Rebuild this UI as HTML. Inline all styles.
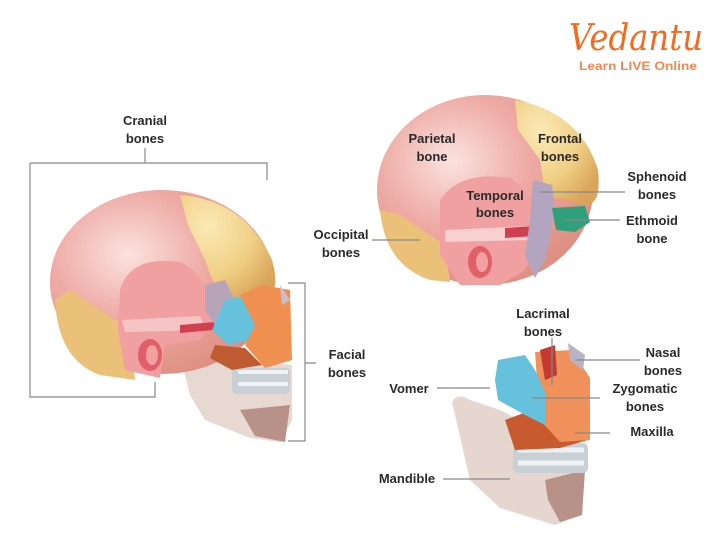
<!DOCTYPE html>
<html><head><meta charset="utf-8"><style>
html,body{margin:0;padding:0;background:#fff;}
svg{display:block;}
text{font-family:"Liberation Sans",sans-serif;font-size:13px;font-weight:bold;fill:#2a2a2a;text-anchor:middle;}
.l{stroke:#888;stroke-width:1.2;fill:none;}
</style></head><body>
<svg width="720" height="544" viewBox="0 0 720 544">
<defs>
<radialGradient id="cr" cx="0.35" cy="0.35" r="0.7">
<stop offset="0" stop-color="#fbe2df"/><stop offset="0.5" stop-color="#eeaaa4"/><stop offset="1" stop-color="#de8f82"/>
</radialGradient>
<radialGradient id="fr" cx="0.3" cy="0.3" r="0.8">
<stop offset="0" stop-color="#fbe9b6"/><stop offset="0.6" stop-color="#f0cf84"/><stop offset="1" stop-color="#d9a55a"/>
</radialGradient>
</defs>

<!-- Logo -->
<text x="636" y="50" textLength="134" lengthAdjust="spacingAndGlyphs" style="font-size:36px;font-weight:normal;fill:#f26b21;font-family:'DejaVu Serif','Liberation Serif',serif;font-style:italic;">Vedantu</text>
<text x="638" y="70" textLength="118" lengthAdjust="spacingAndGlyphs" style="font-size:12px;fill:#ef8a55;">Learn LIVE Online</text>

<!-- Left skull -->
<path class="l" d="M145 148V163M30 163H267V180M30 163V397H155V382"/>
<path class="l" d="M288 283H305V441H288M305 363H316"/>
<text x="145" y="125">Cranial</text><text x="145" y="143">bones</text>
<text x="347" y="359">Facial</text><text x="347" y="377">bones</text>

<path d="M175 335 L200 330 L240 360 L292 365 L292 420 L280 442 L250 438 L205 420 L190 395 Z" fill="#e7d8d2"/>
<path d="M240 410 L290 405 L285 442 L255 436 Z" fill="#b89289"/>
<rect x="232" y="368" width="58" height="26" rx="4" fill="#c8d0d6"/>
<path d="M238 372h50M238 384h50" stroke="#eef2f4" stroke-width="4"/>
<ellipse cx="162" cy="282" rx="112" ry="92" fill="url(#cr)"/>
<path d="M180 195 Q245 200 272 260 Q282 295 262 300 L220 300 L205 260 L188 225 Z" fill="url(#fr)"/>
<path d="M55 300 Q58 360 100 375 L135 380 L130 330 L70 290 Z" fill="#ebc078"/>
<path d="M120 290 Q130 255 180 262 Q210 275 212 320 L200 340 L165 345 L160 378 L125 370 L118 330 Z" fill="#f0a0a0"/>
<path d="M122 320 L200 316 L205 330 L125 332 Z" fill="#f5c4c4"/>
<path d="M180 325 L215 322 L214 330 L180 333Z" fill="#d04050"/>
<ellipse cx="150" cy="355" rx="12" ry="16" fill="#e0606a"/>
<ellipse cx="152" cy="355" rx="6" ry="10" fill="#f2a0a0"/>
<path d="M205 285 L225 280 L240 310 L215 325 L205 310Z" fill="#b8a4b8"/>
<path d="M225 300 L250 295 L258 325 L250 340 L228 345 L212 330 Z" fill="#66c2dc"/>
<path d="M240 295 L262 285 L290 290 L292 360 L265 368 L245 345 L255 325Z" fill="#f09050"/>
<path d="M280 285 L290 300 L282 305Z" fill="#c8c0d0"/>
<path d="M215 345 L245 348 L262 365 L232 370 L210 358Z" fill="#c05a30"/>

<!-- Top-right skull -->
<ellipse cx="485" cy="190" rx="108" ry="95" fill="url(#cr)"/>
<path d="M515 100 Q580 112 598 170 Q602 205 585 205 L545 195 L540 160 L518 130 Z" fill="url(#fr)"/>
<path d="M380 210 Q385 265 430 280 L450 282 L445 245 L400 215Z" fill="#ebc078"/>
<path d="M440 200 Q460 170 510 178 Q540 195 540 240 L525 270 L500 285 L460 285 L440 255 Z" fill="#f0a0a0"/>
<path d="M445 230 L530 226 L532 240 L445 242Z" fill="#f8d0d0"/>
<path d="M505 228 L535 226 L535 236 L505 238Z" fill="#d04050"/>
<ellipse cx="480" cy="262" rx="12" ry="16" fill="#e0606a"/>
<ellipse cx="482" cy="262" rx="6" ry="10" fill="#f2a0a0"/>
<path d="M533 180 L552 185 L555 212 L545 260 L535 278 L525 255 L530 220Z" fill="#b3a4c0"/>
<path d="M552 208 L585 206 L590 222 L575 232 L556 230Z" fill="#2fa07a"/>
<text x="432" y="143">Parietal</text><text x="432" y="161">bone</text>
<text x="560" y="143">Frontal</text><text x="560" y="161">bones</text>
<text x="495" y="200">Temporal</text><text x="495" y="217">bones</text>
<text x="657" y="181">Sphenoid</text><text x="657" y="199">bones</text>
<text x="652" y="225">Ethmoid</text><text x="652" y="243">bone</text>
<text x="341" y="239">Occipital</text><text x="341" y="257">bones</text>
<path class="l" d="M540 192H625M565 220H620M372 240H420"/>

<!-- Bottom face -->
<path d="M452 402 Q458 392 470 400 L500 410 L560 440 L585 470 L582 515 L555 525 L500 508 L470 480 Z" fill="#e6d6d0"/>
<path d="M545 480 L585 470 L582 515 L560 522 L548 500Z" fill="#b89289"/>
<rect x="513" y="443" width="75" height="30" rx="5" fill="#c8d0d6"/>
<path d="M518 450h66M518 463h66" stroke="#eef2f4" stroke-width="5"/>
<path d="M505 420 L545 405 L590 410 L588 440 L560 448 L515 450 Z" fill="#c85a30"/>
<path d="M535 352 L572 350 L590 378 L590 440 L560 442 L540 420 Z" fill="#f0905a"/>
<path d="M498 360 L525 355 L535 370 L545 392 L545 425 L525 415 L498 400 L495 380 Z" fill="#66c2dc"/>
<path d="M540 350 L555 345 L557 375 L545 380Z" fill="#c23a30"/>
<path d="M568 343 L585 355 L583 370 L570 360Z" fill="#b8b4c8"/>
<text x="543" y="318">Lacrimal</text><text x="543" y="336">bones</text>
<text x="663" y="357">Nasal</text><text x="663" y="375">bones</text>
<text x="409" y="393">Vomer</text>
<text x="645" y="393">Zygomatic</text><text x="645" y="411">bones</text>
<text x="652" y="436">Maxilla</text>
<text x="407" y="483">Mandible</text>
<path class="l" d="M552 338V385M575 360H640M437 388H490M532 398H600M575 433H610M443 479H510"/>
</svg>
</body></html>
